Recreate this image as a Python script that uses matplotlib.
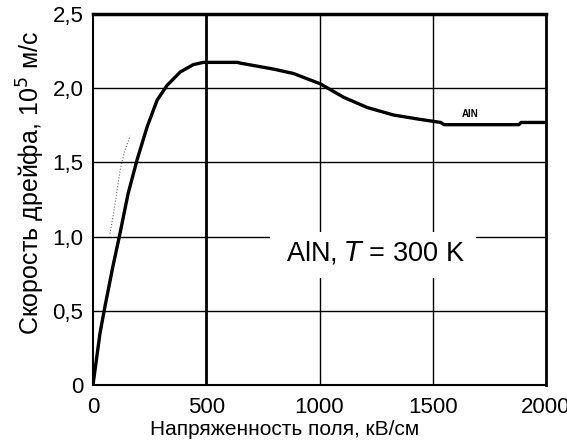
import matplotlib.pyplot as plt
from matplotlib.patches import Rectangle

plt.rcParams['font.family'] = ['Liberation Sans', 'DejaVu Sans']

# drift velocity of AlN, T = 300 K
field = [0, 31, 53, 88, 119, 155, 195, 239, 283, 327, 385, 443, 487, 637, 650,
         796, 885, 1004, 1106, 1212, 1327, 1447, 1535, 1550, 1880, 1890, 2000]
velocity = [0, 0.35, 0.53, 0.80, 1.02, 1.29, 1.52, 1.74, 1.92, 2.02, 2.11, 2.16,
            2.175, 2.175, 2.17, 2.13, 2.10, 2.03, 1.94, 1.87, 1.82, 1.79, 1.77,
            1.755, 1.755, 1.77, 1.77]

# faint dotted trace left of the main curve
dot_field = [75, 90, 105, 120, 140, 165]
dot_velocity = [1.02, 1.15, 1.30, 1.45, 1.58, 1.68]

xticks = [0, 500, 1000, 1500, 2000]
yticks = [0, 0.5, 1.0, 1.5, 2.0, 2.5]
ytick_labels = ['0', '0,5', '1,0', '1,5', '2,0', '2,5']

fig = plt.figure(figsize=(5.67, 4.43), dpi=100)
ax = fig.add_axes([0.164, 0.131, 0.799, 0.837])

ax.set_xlim(0, 2000)
ax.set_ylim(0, 2.5)

for x in [500, 1000, 1500]:
    ax.axvline(x, color='black', lw=2.0 if x == 500 else 1.0, zorder=1)
for y in [0.5, 1.0, 1.5, 2.0]:
    ax.axhline(y, color='black', lw=1.0, zorder=1)

# white gap in the grid behind the annotation
ax.add_patch(Rectangle((783, 0.72), 907, 0.31, facecolor='white',
                       edgecolor='none', zorder=2))

ax.plot(dot_field, dot_velocity, color='0.4', lw=0.8, ls=':', zorder=3)
ax.plot(field, velocity, color='black', lw=2.4, zorder=4)

ax.text(1245, 0.89, 'AlN, $T$ = 300 K', fontsize=19.5, ha='center', va='center',
        zorder=5)
ax.text(1664, 1.83, 'AlN', fontsize=7, fontweight='bold', ha='center',
        va='center', zorder=5)

ax.set_xticks(xticks)
ax.set_xticklabels([str(t) for t in xticks])
ax.set_yticks(yticks)
ax.set_yticklabels(ytick_labels)
ax.tick_params(length=0, labelsize=16, pad=7)
ax.tick_params(axis='x', pad=9)

ax.set_xlabel('Напряженность поля, кВ/см', fontsize=15)
ax.xaxis.set_label_coords(0.424, -0.095)
ax.set_ylabel('Скорость дрейфа, 10$^5$ м/с', fontsize=18)
ax.yaxis.set_label_coords(-0.102, 0.545)

ax.spines['left'].set_linewidth(1.5)
ax.spines['bottom'].set_linewidth(1.5)
ax.spines['top'].set_linewidth(2.5)
ax.spines['right'].set_linewidth(2.0)

fig.savefig('out.png', dpi=100)
